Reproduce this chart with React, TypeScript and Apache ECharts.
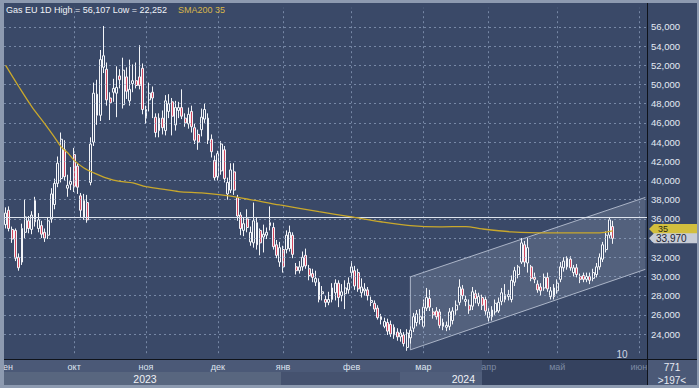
import React, { useEffect, useRef } from 'react';
import * as echarts from 'echarts';

// OHLC per trading day, EUR/MWh (thousands on axis): [open, close, low, high]
const candles: number[][] = [
  [35.4,36.6,35.0,37.2],[36.9,35.0,34.7,37.3],[34.9,33.9,33.5,35.2],[34.8,31.9,31.6,35.0],[32.0,30.9,30.6,32.4],
  [31.5,35.0,31.2,35.5],[34.6,36.2,34.0,38.0],[35.8,35.0,34.5,36.3],[34.9,36.4,34.4,36.8],[37.9,35.7,35.2,38.3],
  [35.0,35.9,34.6,36.6],[35.3,34.4,34.0,35.8],[34.6,34.0,33.6,35.0],[34.3,35.8,33.9,36.2],[36.0,38.6,35.6,39.2],
  [37.5,39.7,37.0,40.2],[39.7,41.8,39.3,42.5],[40.2,44.3,39.8,45.0],[43.2,40.4,40.0,44.2],[39.2,39.5,38.3,40.6],
  [39.6,39.9,39.0,41.4],[42.7,39.4,38.8,43.4],[41.5,39.3,38.6,41.8],[38.4,36.9,36.2,38.7],[36.2,37.9,35.9,38.6],
  [37.7,35.9,35.6,38.5],[39.8,43.8,39.5,44.5],[44.0,49.1,43.6,50.2],[49.0,46.8,45.8,50.5],[46.8,52.6,46.2,53.6],
  [51.8,53.0,51.2,56.107],[51.6,48.4,47.8,52.3],[48.6,48.1,46.3,49.2],[49.2,49.6,48.2,50.6],[49.1,49.7,46.6,51.9],
  [50.9,50.5,49.6,51.6],[47.9,51.5,47.5,52.8],[50.8,49.3,48.5,51.8],[48.3,49.5,47.8,52.6],[50.1,50.4,49.2,52.1],
  [50.4,49.9,49.6,52.3],[50.8,49.9,49.5,54.1],[51.7,47.4,46.9,52.2],[46.5,47.4,45.9,47.8],[48.4,49.1,47.2,50.2],
  [49.2,48.6,46.5,49.8],[46.6,45.0,44.5,47.0],[45.2,46.5,44.5,47.0],[46.5,45.5,44.8,47.3],[45.2,48.3,44.7,48.9],
  [47.2,48.0,46.5,49.0],[48.2,46.7,44.7,48.6],[45.8,47.6,45.2,48.3],[47.3,47.6,46.5,48.2],[47.6,46.7,46.4,49.5],
  [46.5,46.0,45.6,47.0],[45.9,46.9,45.4,47.6],[47.2,45.6,45.0,47.8],[45.5,44.2,43.8,45.9],[44.8,44.0,43.2,45.3],
  [45.3,46.6,44.6,47.5],[46.4,47.4,46.0,48.0],[46.5,44.2,43.8,47.0],[44.3,43.0,42.4,44.8],[42.1,40.3,40.0,42.6],
  [40.4,42.8,40.0,43.1],[41.0,43.8,40.6,44.1],[43.2,40.2,39.8,43.6],[38.6,39.8,38.0,40.3],[39.0,41.1,38.7,41.8],
  [40.9,39.0,38.5,41.8],[38.2,36.3,35.8,38.5],[36.4,35.0,34.3,36.7],[34.8,35.5,34.2,36.2],[36.0,35.1,34.6,37.0],
  [33.6,34.6,33.2,35.2],[33.5,35.8,33.0,37.7],[35.6,33.3,32.8,36.2],[34.8,33.5,32.2,35.0],[34.1,34.4,32.5,35.4],
  [34.3,34.6,33.9,35.1],[35.3,35.6,34.8,37.3],[35.1,33.1,32.8,35.6],[33.3,32.2,31.9,33.8],[31.5,33.0,31.0,33.6],
  [32.8,31.0,30.4,33.2],[32.8,34.3,32.4,34.8],[32.9,34.6,32.6,35.3],[34.3,32.3,31.9,34.6],[31.0,30.6,30.2,31.4],
  [30.6,31.0,30.3,31.6],[31.0,32.0,30.6,32.6],[32.2,31.1,30.8,32.9],[30.8,30.1,29.6,31.2],[30.3,29.9,29.4,30.8],
  [29.4,29.8,29.0,30.6],[29.4,27.6,27.3,29.8],[28.2,28.4,27.5,29.0],[27.6,27.3,26.8,28.0],[27.3,27.6,27.0,28.4],
  [27.6,28.8,27.3,29.3],[28.3,29.3,27.5,29.7],[29.3,27.8,26.8,29.6],[28.0,28.4,27.4,29.2],[28.2,28.8,26.6,29.6],
  [28.6,29.3,28.2,29.9],[30.4,31.0,29.8,31.6],[30.6,29.0,28.6,31.1],[30.4,28.7,28.4,30.8],[28.3,28.9,27.8,29.8],
  [28.5,28.7,28.0,29.3],[28.6,28.0,27.5,28.9],[27.3,27.5,26.9,27.9],[27.2,26.6,26.3,27.5],[26.7,25.7,25.5,27.0],
  [25.8,25.5,25.0,26.1],[24.8,25.3,24.6,25.7],[25.2,24.3,23.9,25.6],[25.0,24.0,23.7,25.4],[24.7,23.9,23.5,25.0],
  [24.2,23.7,23.3,24.6],[23.7,24.1,23.2,24.5],[23.9,23.0,22.7,24.2],[22.6,24.1,22.252,24.5],[23.6,24.4,23.0,24.8],
  [24.6,25.8,24.2,26.2],[25.2,26.1,24.8,26.5],[25.5,25.8,25.0,26.6],[24.8,26.8,24.6,27.6],[26.7,27.8,26.4,28.8],
  [27.7,26.8,26.4,28.6],[26.3,26.0,25.6,26.7],[26.4,25.8,25.5,26.8],[26.3,24.9,24.6,26.6],[24.8,25.2,24.4,25.6],
  [24.7,24.9,24.3,25.3],[24.8,26.3,24.4,26.7],[25.4,26.4,25.0,26.8],[26.5,27.0,26.0,27.5],[27.3,28.9,27.0,29.7],
  [28.7,28.0,27.6,29.1],[27.4,27.6,26.9,28.0],[27.0,26.5,26.1,27.6],[26.9,28.4,26.5,28.9],[28.2,27.7,27.2,28.6],
  [27.2,27.9,26.9,28.3],[27.8,27.0,26.5,28.1],[27.6,26.4,26.0,27.9],[25.7,26.3,25.3,26.7],[25.8,26.5,25.4,26.9],
  [26.3,27.2,26.0,27.6],[26.4,27.3,26.2,27.8],[27.4,28.3,27.0,28.8],[27.6,28.1,27.3,29.2],[27.9,28.1,27.5,28.6],
  [27.6,29.6,27.3,30.1],[29.4,30.6,29.0,31.0],[30.2,31.0,29.8,31.2],[31.5,33.5,31.3,34.0],[33.3,31.5,31.0,33.7],
  [31.4,33.0,30.4,34.0],[31.0,29.8,29.5,31.2],[29.9,29.7,29.3,30.4],[29.2,28.6,28.3,29.6],[28.9,28.5,28.0,29.3],
  [28.8,29.9,28.5,30.3],[29.9,28.7,28.4,30.4],[27.9,28.5,27.6,28.9],[28.8,27.9,27.6,29.2],[28.5,29.3,28.2,29.7],
  [29.7,31.0,29.4,31.5],[30.9,31.6,30.5,32.0],[31.0,31.9,30.7,32.1],[31.8,30.9,30.6,32.1],[30.4,30.9,30.0,31.2],
  [30.9,30.2,29.9,31.3],[30.0,29.7,29.3,30.3],[30.1,29.7,29.4,30.4],[29.7,30.0,29.4,30.4],[30.0,29.6,29.2,30.4],
  [29.8,30.4,29.5,30.8],[30.2,31.0,29.9,31.4],[31.0,32.0,30.7,32.4],[31.8,33.3,31.5,33.6],[32.8,34.3,32.5,34.7],
  [34.3,35.9,34.0,36.2],[35.2,33.97,33.4,35.8],
];

const slotCount = 197; // visible bars (">197<")
const monthIdx = [0, 21, 43, 65, 85, 106, 128, 148, 169, 194];
const monthNames = ['сен', 'окт', 'ноя', 'дек', 'янв', 'фев', 'мар', 'апр', 'май', 'июн'];
const dimFromIdx = 148;
const yTicks = [24, 26, 28, 30, 32, 34, 36, 38, 40, 42, 44, 46, 48, 50, 52, 54, 56];

// SMA200 samples [bar index, value]
const smaPoints: number[][] = [
  [0, 52.0], [4, 49.8], [8, 47.7], [12, 45.9], [15, 44.5], [17, 43.5], [19, 42.9], [21, 42.1],
  [24, 41.3], [27, 40.8], [31, 40.25], [35, 39.9], [39, 39.75], [43, 39.35], [48, 39.1], [53, 38.85],
  [60, 38.7], [66, 38.5], [72, 38.2], [84, 37.45], [96, 36.75], [106, 36.2], [115, 35.7], [124, 35.3],
  [133, 35.17], [141, 35.2], [146, 34.95], [155, 34.65], [167, 34.55], [182, 34.55], [186, 34.75],
];
const smaLast = 34.95;
const lastClose = 33.97;
const resistance = 36.2;
const channelTop = [[124, 29.96], [196, 38.24]];
const channelBottom = [[124, 22.35], [196, 30.74]];

const titleText = 'Gas EU 1D High = 56,107 Low = 22,252';
const smaText = 'SMA200 35';
const yearLabels = ['2023', '2024'];
const barCountText = '771';
const visibleText = '>197<';
const cornerNote = '10';

const FONT = '"Liberation Sans", Arial, sans-serif';
const BG = '#3a4968';

const fmt = (v: number) => Math.round(v * 1000).toLocaleString('en-US');

export default function App() {
  const ref = useRef<HTMLDivElement>(null);
  useEffect(() => {
    document.body.style.margin = '0';
    if (!ref.current) return;
    const chart = echarts.init(ref.current, undefined, { renderer: 'svg' });
    const cats = Array.from({ length: slotCount }, (_, i) => String(i));

    chart.setOption({
      animation: false,
      grid: { left: 4, right: 52, top: 7.8, bottom: 34.8, outerBoundsMode: 'none' },
      xAxis: {
        type: 'category',
        data: cats,
        boundaryGap: true,
        z: 5,
        axisLine: { show: false },
        axisTick: { show: false },
        splitLine: { show: false },
        axisLabel: {
          interval: (i: number) => monthIdx.includes(i),
          margin: 9,
          formatter: (v: string) => {
            const k = monthIdx.indexOf(Number(v));
            if (k < 0) return '';
            return Number(v) >= dimFromIdx ? `{d|${monthNames[k]}}` : `{n|${monthNames[k]}}`;
          },
          rich: {
            n: { color: '#dfe5f0', fontSize: 9, fontFamily: FONT },
            d: { color: '#7d8aa3', fontSize: 9, fontFamily: FONT },
          },
        },
      },
      yAxis: {
        type: 'value',
        position: 'right',
        min: 22,
        max: 58,
        interval: 2,
        z: 5,
        axisLine: { show: false },
        axisTick: { show: false },
        splitLine: { show: false },
        axisLabel: {
          margin: 4,
          color: '#e4e9f3',
          fontSize: 9.5,
          fontFamily: FONT,
          formatter: (v: number) => (yTicks.includes(v) ? fmt(v) : ''),
        },
      },
      series: [
        {
          type: 'line',
          name: 'grid',
          data: [],
          z: 1,
          silent: true,
          markLine: {
            silent: true,
            symbol: ['none', 'none'],
            label: { show: false },
            lineStyle: { type: [2, 3], color: 'rgba(160,178,208,0.6)', width: 1 },
            data: [
              ...yTicks.map((v) => ({ yAxis: v })),
              ...monthIdx.slice(1).map((i) => ({ xAxis: String(i) })),
            ],
          },
        },
        {
          type: 'custom',
          name: 'channel',
          z: 2,
          silent: true,
          data: [[0]],
          renderItem: (_p: any, api: any) => {
            const tl = api.coord(channelTop[0]);
            const tr = api.coord(channelTop[1]);
            const br = api.coord(channelBottom[1]);
            const bl = api.coord(channelBottom[0]);
            return {
              type: 'group',
              children: [
                { type: 'polygon', shape: { points: [tl, tr, br, bl] }, style: { fill: 'rgba(225,232,246,0.15)' } },
                {
                  type: 'polyline',
                  shape: { points: [br, bl, tl, tr] },
                  style: { fill: 'none', stroke: 'rgba(215,222,236,0.7)', lineWidth: 1 },
                },
              ],
            };
          },
        },
        {
          type: 'candlestick',
          name: 'Gas EU',
          data: candles,
          z: 4,
          barWidth: 2.4,
          itemStyle: {
            color: BG,
            color0: '#d4475f',
            borderColor: '#f3f5f9',
            borderColor0: '#f3f5f9',
            borderWidth: 1,
          },
          markLine: {
            silent: true,
            symbol: ['none', 'none'],
            label: { show: false },
            lineStyle: { type: 'solid', color: '#dfe5ef', width: 1 },
            data: [{ yAxis: resistance }],
          },
        },
        {
          type: 'line',
          name: 'SMA200',
          data: smaPoints,
          z: 5,
          smooth: 0.3,
          showSymbol: false,
          lineStyle: { color: '#c9a82c', width: 1.3 },
        },
      ],
    });

    const yC = chart.convertToPixel({ yAxisIndex: 0 }, lastClose) as number;
    const yS = chart.convertToPixel({ yAxisIndex: 0 }, smaLast) as number;
    const tag = (y: number, fill: string) => [
      [649, y], [654, y - 5], [697, y - 5], [697, y + 5], [654, y + 5],
    ];
    const txt = (x: number, y: number, text: string, size: number, fill: string, align = 'left', z = 10) => ({
      type: 'text', x, y, z,
      style: { text, fill, fontSize: size, fontFamily: FONT, align, verticalAlign: 'middle' },
    });
    const rect = (x: number, y: number, w: number, h: number, fill: string, z = 0) => ({
      type: 'rect', z, shape: { x, y, width: w, height: h }, style: { fill },
    });

    chart.setOption({
      graphic: {
        elements: [
          rect(4, 3, 693, 356, BG),
          rect(4, 359, 478, 13, '#4b5977'),
          rect(4, 372, 277, 13, '#58667f'),
          rect(281, 372, 119, 13, '#45526f'),
          rect(400, 372, 82, 13, '#505e7b'),
          rect(482, 359, 165, 26, '#35425f'),
          rect(647, 359, 50, 26, '#4b5977'),
          rect(0, 0, 4, 388, '#8d9ab0', 9),
          { type: 'line', z: 8, shape: { x1: 647.5, y1: 3, x2: 647.5, y2: 385 }, style: { stroke: '#0f131b', lineWidth: 1 } },
          { type: 'line', z: 8, shape: { x1: 4, y1: 359.5, x2: 697, y2: 359.5 }, style: { stroke: '#0f131b', lineWidth: 1 } },
          txt(6, 10, titleText, 9, '#f0f3f8'),
          txt(178, 10, smaText, 9, '#d8b64a'),
          txt(145, 378.5, yearLabels[0], 10.5, '#eef1f6', 'center'),
          txt(475, 379, yearLabels[1], 10.5, '#eef1f6', 'right'),
          txt(622, 354, cornerNote, 10, '#d0d7e3', 'center'),
          txt(672, 367, barCountText, 10, '#e6eaf2', 'center'),
          txt(672, 380, visibleText, 10, '#e6eaf2', 'center'),
          { type: 'polygon', z: 11, shape: { points: tag(yS, '') }, style: { fill: '#d2bf3e' } },
          txt(658, yS, '35', 9, '#2a2a12', 'left', 12),
          { type: 'polygon', z: 13, shape: { points: tag(yC, '') }, style: { fill: '#c7ccd6' } },
          txt(656, yC, fmt(lastClose), 10, '#1c2331', 'left', 14),
        ],
      },
    });

    return () => chart.dispose();
  }, []);
  return <div ref={ref} style={{ width: 699, height: 388, background: '#8d9ab0' }} />;
}
